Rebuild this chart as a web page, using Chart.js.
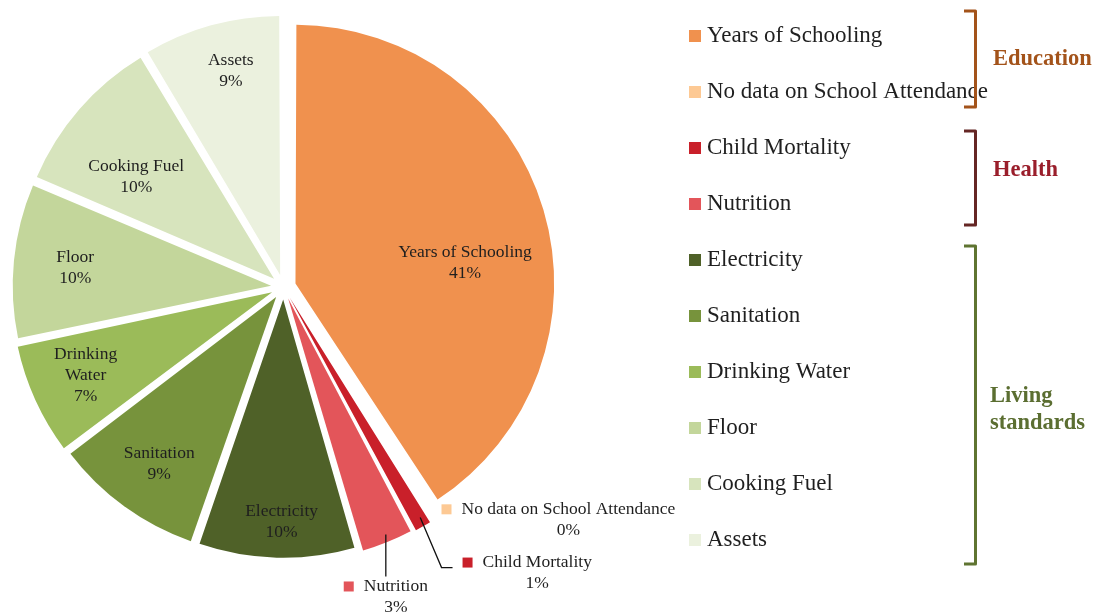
<!DOCTYPE html>
<html lang="en">
<head>
<meta charset="UTF-8">
<script src="https://cdn.jsdelivr.net/npm/chart.js"></script>
<title>Deprivation shares</title>
<style>
  html, body { margin: 0; padding: 0; background: #fff; }
  #wrap { position: relative; width: 1098px; height: 612px; }
</style>
</head>
<body>
<div id="wrap"><canvas id="pieChart"></canvas></div>
<script>
// indicator names and their share of deprivation (%)
const indicators = ['Years of Schooling', 'No data on School Attendance', 'Child Mortality', 'Nutrition',
  'Electricity', 'Sanitation', 'Drinking Water', 'Floor', 'Cooking Fuel', 'Assets'];
const shares = [40.8, 0.2, 1.2, 3.3, 9.8, 9.4, 7.0, 9.7, 10.0, 8.6];
const colors = ['#F0914E', '#FDC994', '#C9202A', '#E3555A', '#4F6128', '#77933C', '#9BBB59', '#C3D69B', '#D7E4BD', '#EBF1DE'];

// dimension groups shown with brackets next to the legend
const groupNames = [['Education'], ['Health'], ['Living', 'standards']];
const groupColors = ['#A3531A', '#9A1E2B', '#5B6E31'];
const bracketColors = ['#A3531A', '#652624', '#5F7431'];

// label text lines inside slices
const labelLines = [['Years of Schooling'], ['No data on School Attendance'], ['Child Mortality'], ['Nutrition'],
  ['Electricity'], ['Sanitation'], ['Drinking', 'Water'], ['Floor'], ['Cooking Fuel'], ['Assets']];

const FONT = '"Liberation Serif", "Times New Roman", serif';
const explode = 50; // chart.js offset (moves slice by explode/4)

// label placement: radial fraction for inside labels, or callout for small slices
const placement = [
  {f: 0.65, dx: 12, dy: 26},
  {callout: true, dx: 138, dy: -6},
  {callout: true, dx: 117, dy: 41, leader: 'elbow'},
  {callout: true, dx: 10, dy: 48, leader: 'down'},
  {f: 0.88, dx: 4, dy: 0},
  {f: 0.80, dx: 2, dy: 3},
  {f: 0.81, dx: 0, dy: -2},
  {f: 0.77, dx: -2, dy: 1},
  {f: 0.67, dx: -10, dy: 9},
  {f: 0.82, dx: 6, dy: -4}
];

// bracket extents (px) and group-title positions
const bracketSpan = [[11, 107], [131, 225], [246, 564]];
const titleTop = [59, 170, 396];

const sliceLabels = {
  id: 'sliceLabels',
  afterDatasetsDraw(chart) {
    const ctx = chart.ctx;
    const arcs = chart.getDatasetMeta(0).data;
    const shift = explode / 4;
    ctx.save();
    ctx.fillStyle = '#1f1f1f';
    ctx.font = '17.5px ' + FONT;
    ctx.textAlign = 'center';
    ctx.textBaseline = 'middle';
    const lh = 21;
    arcs.forEach((arc, i) => {
      const p = placement[i];
      const mid = (arc.startAngle + arc.endAngle) / 2;
      const ux = Math.cos(mid), uy = Math.sin(mid);
      const lines = labelLines[i].concat([Math.round(shares[i]) + '%']);
      if (!p.callout) {
        const d = shift + p.f * arc.outerRadius;
        const x = arc.x + ux * d + p.dx;
        const y = arc.y + uy * d + p.dy;
        const top = y - (lines.length - 1) * lh / 2;
        lines.forEach((t, k) => ctx.fillText(t, x, top + k * lh));
        return;
      }
      // callout label with a colour key and optional leader line
      const r = shift + arc.outerRadius + 6;
      const ax = arc.x + ux * r, ay = arc.y + uy * r;
      const x = ax + p.dx, y = ay + p.dy;
      const w = ctx.measureText(lines[0]).width;
      const keyX = x - w / 2 - 20;
      ctx.fillStyle = colors[i];
      ctx.fillRect(keyX, y - 5, 10, 10);
      ctx.fillStyle = '#1f1f1f';
      lines.forEach((t, k) => ctx.fillText(t, x, y + k * lh));
      if (p.leader) {
        ctx.strokeStyle = '#111';
        ctx.lineWidth = 1.3;
        ctx.beginPath();
        ctx.moveTo(ax, ay - 4);
        if (p.leader === 'elbow') {
          ctx.lineTo(keyX - 21, y + 5);
          ctx.lineTo(keyX - 10, y + 5);
        } else {
          ctx.lineTo(ax, y - 10);
        }
        ctx.stroke();
      }
    });
    ctx.restore();
  }
};

const sideLegend = {
  id: 'sideLegend',
  afterDraw(chart) {
    const ctx = chart.ctx;
    const left = 689, top = 36, step = 56;
    ctx.save();
    ctx.textBaseline = 'middle';
    ctx.textAlign = 'left';
    ctx.font = '23px ' + FONT;
    indicators.forEach((name, i) => {
      const y = top + i * step;
      ctx.fillStyle = colors[i];
      ctx.fillRect(left, y - 6, 12, 12);
      ctx.fillStyle = '#1f1f1f';
      ctx.fillText(name, left + 18, y);
    });
    // brackets and group names
    groupNames.forEach((names, g) => {
      const [y0, y1] = bracketSpan[g];
      ctx.strokeStyle = bracketColors[g];
      ctx.lineWidth = 3;
      ctx.lineJoin = 'round';
      ctx.beginPath();
      ctx.moveTo(964, y0);
      ctx.lineTo(975.5, y0);
      ctx.lineTo(975.5, y1);
      ctx.lineTo(964, y1);
      ctx.stroke();
      ctx.fillStyle = groupColors[g];
      ctx.font = 'bold 22.5px ' + FONT;
      names.forEach((t, k) => ctx.fillText(t, g === 2 ? 990 : 993, titleTop[g] + k * 27));
    });
    ctx.restore();
  }
};

new Chart(document.getElementById('pieChart'), {
  type: 'pie',
  data: {
    labels: indicators,
    datasets: [{
      data: shares,
      backgroundColor: colors,
      borderWidth: 0,
      offset: explode
    }]
  },
  options: {
    responsive: true,
    maintainAspectRatio: false,
    animation: false,
    events: [],
    radius: 253,
    layout: { padding: { left: 0, top: 0, right: 531, bottom: 38 } },
    plugins: { legend: { display: false }, tooltip: { enabled: false } }
  },
  plugins: [sliceLabels, sideLegend]
});
</script>
</body>
</html>
